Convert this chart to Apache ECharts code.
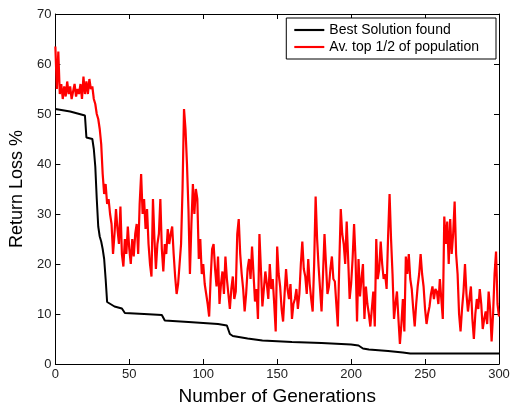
<!DOCTYPE html>
<html>
<head>
<meta charset="utf-8">
<script src="https://cdn.jsdelivr.net/npm/echarts@6/dist/echarts.min.js"></script>
<style>
  html, body { margin: 0; padding: 0; background: #fff; }
  #chart { width: 513px; height: 411px; }
</style>
</head>
<body>
<div id="chart"></div>
<script>
// 最优解 (阶梯下降)
var bestGen = [0, 10, 20, 21, 25, 26, 27, 28, 29, 30, 31, 32, 33, 34, 35, 36, 40, 45, 47, 60, 72, 74,
  90, 110, 116, 118, 120, 130, 140, 160, 180, 200, 205, 208, 212, 225, 235, 240, 300];
var bestVal = [51.0, 50.5, 49.7, 45.3, 45.0, 43, 39.5, 33, 27.5, 25.5, 24.5, 23, 21, 17, 12.4, 12.0, 11.5, 11.1, 10.2, 10.0, 9.8, 8.7,
  8.4, 8.0, 7.7, 6.0, 5.6, 5.1, 4.7, 4.4, 4.2, 3.9, 3.7, 3.1, 2.9, 2.6, 2.3, 2.1, 2.1];

// 种群前一半平均值, 每代一个 (0..300)
var avgVal = [
  63.5, 55, 62.5, 54, 56, 53, 55.5, 53.5, 56.5, 54,
  55.5, 53, 54.5, 56, 53.5, 55, 54, 56, 53, 57.5,
  54, 56.5, 54, 57, 55, 55.5, 53, 52, 50, 49,
  47, 44, 38, 34, 36, 32, 33, 30, 28, 22,
  26, 31, 27, 24, 31.5, 22, 19.5, 25, 22, 27.5,
  23, 20, 25, 21.5, 26, 28, 22, 32, 38, 30,
  33, 27, 31, 24, 20, 17.5, 33, 25, 19, 24,
  26, 33, 23, 18.5, 24, 22, 27, 24, 26, 27.5,
  22, 17.5, 14, 16, 20, 24, 35, 51, 47, 40,
  31, 18, 28, 36, 30, 35, 33, 21, 25, 18,
  20, 16, 14, 12, 9.5, 17, 23, 24, 19, 15.5,
  21.5, 12, 16, 18.5, 14, 21.5, 17, 14, 11, 15,
  17.5, 13, 14.5, 26, 29, 22, 18, 15, 10.5, 14,
  19, 21, 17, 23.5, 18, 12.5, 15, 9, 26, 19,
  11.5, 15, 18.5, 16, 13, 20, 15, 17, 12, 6.5,
  23.5, 18, 15.5, 11, 8.5, 14, 19, 15, 13, 16,
  9, 12, 13, 15, 11, 14, 20, 24.5, 19, 17.5,
  14, 21, 16, 13, 10.5, 20, 33.5, 25, 19.5, 15,
  10.5, 18, 26, 20, 14, 15.5, 19, 21.5, 17, 16.5,
  12, 7.5, 20, 31, 26, 24, 20, 28.5, 21, 13,
  16, 21, 28, 21, 8.5, 21, 13.5, 17, 20, 9,
  15.5, 12, 10, 7.5, 11, 14.5, 7.5, 25, 17, 19,
  24.5, 20, 17, 18, 15, 25.5, 34, 25, 18, 9,
  12, 14.5, 9, 4, 8, 13, 6.5, 21.5, 18, 22,
  17, 15, 11, 7.5, 12, 15.5, 18, 22, 18, 15.5,
  11, 8, 10, 11.5, 14, 15.5, 13, 15, 14.5, 12,
  17, 13, 9, 29.5, 24, 28.5, 20, 29, 22, 26,
  32.5, 22, 18, 10, 6.5, 11, 14.5, 20, 14, 10.5,
  13, 15.5, 9, 5, 10, 13, 11, 15, 12, 7,
  9, 10.5, 8, 14.5, 11, 4.5, 10, 18, 22.5, 12,
  9.5
];

var xTicks = [0, 50, 100, 150, 200, 250, 300];
var yTicks = [0, 10, 20, 30, 40, 50, 60, 70];

var bestData = bestGen.map(function(g, i) { return [g, bestVal[i]]; });
var avgData = avgVal.map(function(v, i) { return [i, v]; });

var font = 'Liberation Sans, Arial, sans-serif';
var axisLine = { show: true, onZero: false, lineStyle: { color: '#000', width: 1 } };
var tick = { show: true, inside: true, length: 5, lineStyle: { color: '#000' } };

var chart = echarts.init(document.getElementById('chart'));
chart.setOption({
  animation: false,
  backgroundColor: '#fff',
  grid: { left: 53, right: 14, top: 14, bottom: 46 },
  legend: {
    right: 17,
    top: 18,
    orient: 'vertical',
    backgroundColor: '#fff',
    borderColor: '#000',
    borderWidth: 1,
    borderRadius: 0,
    padding: [5, 17, 5, 8],
    itemWidth: 30,
    itemHeight: 14,
    itemGap: 3,
    textStyle: { fontFamily: font, fontSize: 14, color: '#000' },
    data: [
      { name: 'Best Solution found', icon: 'path://M0,0L28,0L28,2L0,2Z' },
      { name: 'Av. top 1/2 of population', icon: 'path://M0,0L28,0L28,2L0,2Z' }
    ]
  },
  xAxis: [{
    type: 'value', min: xTicks[0], max: xTicks[xTicks.length - 1], interval: 50,
    name: 'Number of Generations', nameLocation: 'middle', nameGap: 23,
    nameTextStyle: { fontFamily: font, fontSize: 19, color: '#000' },
    axisLine: axisLine, axisTick: tick, splitLine: { show: false },
    axisLabel: { fontFamily: font, fontSize: 13, color: '#222', margin: 4 }
  }, {
    type: 'value', position: 'top', min: 0, max: 300, interval: 50,
    axisLine: axisLine, axisTick: tick, splitLine: { show: false },
    axisLabel: { show: false }
  }],
  yAxis: [{
    type: 'value', min: yTicks[0], max: yTicks[yTicks.length - 1], interval: 10,
    name: 'Return Loss %', nameLocation: 'middle', nameGap: 26,
    nameTextStyle: { fontFamily: font, fontSize: 18, color: '#000' },
    axisLine: axisLine, axisTick: tick, splitLine: { show: false },
    axisLabel: { fontFamily: font, fontSize: 13, color: '#222', margin: 4 }
  }, {
    type: 'value', position: 'right', min: 0, max: 70, interval: 10,
    axisLine: axisLine, axisTick: tick, splitLine: { show: false },
    axisLabel: { show: false }
  }],
  series: [{
    name: 'Best Solution found',
    type: 'line',
    data: bestData,
    showSymbol: false,
    symbol: 'none',
    z: 3,
    itemStyle: { color: '#000' },
    lineStyle: { color: '#000', width: 2 }
  }, {
    name: 'Av. top 1/2 of population',
    type: 'line',
    data: avgData,
    showSymbol: false,
    symbol: 'none',
    z: 2,
    itemStyle: { color: '#ff0000' },
    lineStyle: { color: '#ff0000', width: 2.2 }
  }]
});
</script>
</body>
</html>
